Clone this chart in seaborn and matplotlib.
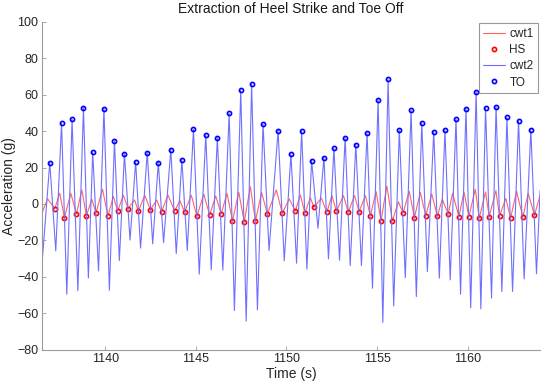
import numpy as np
import pandas as pd
import matplotlib
matplotlib.use("Agg")
import matplotlib.pyplot as plt
import seaborn as sns

sns.set_style("white")
plt.rcParams['font.family'] = ['Liberation Sans', 'DejaVu Sans']

# Toe off points (peaks of cwt2)
to_time = [1136.94, 1137.59, 1138.17, 1138.80, 1139.31, 1139.93, 1140.51, 1141.06, 1141.68, 1142.32,
           1142.93, 1143.62, 1144.23, 1144.87, 1145.55, 1146.19, 1146.84, 1147.48, 1148.08, 1148.71,
           1149.54, 1150.25, 1150.84, 1151.39, 1152.07, 1152.62, 1153.24, 1153.83, 1154.45, 1155.06,
           1155.61, 1156.23, 1156.88, 1157.47, 1158.13, 1158.75, 1159.36, 1159.91, 1160.47, 1160.99,
           1161.57, 1162.17, 1162.81, 1163.49]
to_acc = [22.7, 44.3, 46.5, 52.9, 28.4, 52.3, 34.6, 27.5, 23.1, 28.2,
          22.7, 29.8, 24.3, 41.0, 37.9, 36.4, 49.8, 62.4, 65.7, 43.8,
          40.2, 27.3, 40.2, 23.8, 25.4, 30.6, 36.4, 32.6, 39.1, 57.1,
          68.3, 40.5, 51.4, 44.5, 39.7, 40.5, 46.5, 52.3, 61.6, 52.9,
          53.2, 47.6, 45.7, 40.8]

# troughs of cwt2 between toe offs (plus the two ends)
cwt2_trough_time = [1136.54, 1137.27, 1137.88, 1138.49, 1139.07, 1139.63, 1140.23, 1140.78, 1141.37, 1141.95,
                    1142.62, 1143.22, 1143.92, 1144.53, 1145.19, 1145.85, 1146.49, 1147.13, 1147.78, 1148.40,
                    1149.04, 1149.88, 1150.56, 1151.13, 1151.74, 1152.32, 1152.93, 1153.52, 1154.14, 1154.75,
                    1155.32, 1155.92, 1156.56, 1157.17, 1157.78, 1158.44, 1159.04, 1159.61, 1160.17, 1160.73,
                    1161.32, 1161.89, 1162.48, 1163.12, 1163.80, 1164.00]
cwt2_trough_acc = [-29.2, -25.7, -49.5, -47.5, -40.6, -36.7, -47.3, -31.0, -19.8, -24.2,
                   -21.9, -21.2, -27.2, -25.5, -38.5, -36.1, -36.3, -58.4, -64.3, -58.1,
                   -25.5, -31.2, -32.5, -35.7, -13.3, -30.1, -30.8, -33.8, -33.8, -46.2,
                   -65.0, -55.9, -40.4, -50.8, -37.1, -40.7, -41.6, -49.5, -57.0, -57.5,
                   -51.6, -48.0, -48.0, -41.1, -38.3, 7.3]

# Heel strike points (minima of cwt1)
hs_time = [1137.22, 1137.75, 1138.41, 1138.96, 1139.49, 1140.15, 1140.69, 1141.26, 1141.83, 1142.49,
           1143.11, 1143.83, 1144.38, 1145.06, 1145.76, 1146.40, 1147.02, 1147.67, 1148.29, 1148.95,
           1149.77, 1150.49, 1151.02, 1151.52, 1152.23, 1152.76, 1153.41, 1154.01, 1154.63, 1155.22,
           1155.85, 1156.44, 1157.06, 1157.69, 1158.33, 1158.93, 1159.52, 1160.07, 1160.64, 1161.19,
           1161.76, 1162.37, 1163.05, 1163.69]
hs_acc = [-2.5, -7.5, -5.4, -6.4, -4.9, -6.4, -3.8, -2.5, -3.9, -3.2,
          -4.3, -3.9, -4.3, -6.7, -6.0, -5.4, -9.3, -9.8, -9.3, -5.4,
          -5.0, -3.9, -5.0, -1.8, -4.5, -3.9, -4.5, -4.2, -6.4, -9.1,
          -9.3, -4.9, -7.5, -6.4, -6.7, -5.4, -6.9, -6.9, -7.8, -6.9,
          -6.5, -7.8, -7.2, -6.1]

# peaks of cwt1 between heel strikes (plus the two ends)
cwt1_peak_time = [1136.54, 1136.82, 1137.49, 1138.10, 1138.71, 1139.26, 1139.85, 1140.45, 1141.00, 1141.62,
                  1142.18, 1142.84, 1143.46, 1144.12, 1144.75, 1145.44, 1146.10, 1146.72, 1147.37, 1148.01,
                  1148.63, 1149.44, 1150.16, 1150.77, 1151.32, 1151.93, 1152.51, 1153.15, 1153.76, 1154.36,
                  1154.95, 1155.54, 1156.18, 1156.78, 1157.39, 1158.02, 1158.60, 1159.17, 1159.80, 1160.42,
                  1160.99, 1161.56, 1162.11, 1162.70, 1163.34, 1163.98]
cwt1_peak_acc = [-4.2, 2.8, 5.9, 5.9, 7.7, 2.6, 8.1, 4.1, 4.8, 2.2,
                 4.8, 2.2, 5.0, 1.9, 4.8, 5.4, 4.4, 5.9, 6.5, 9.5,
                 6.3, 7.7, 2.8, 5.0, 3.5, 3.2, 4.6, 4.6, 4.6, 4.6,
                 6.8, 9.9, 1.2, 7.0, 6.3, 5.5, 2.6, 5.9, 6.6, 8.1,
                 6.6, 7.3, 3.0, 7.0, 5.9, 4.1]

cwt1 = pd.DataFrame({"t": hs_time + cwt1_peak_time, "a": hs_acc + cwt1_peak_acc}).sort_values("t")
cwt2 = pd.DataFrame({"t": to_time + cwt2_trough_time, "a": to_acc + cwt2_trough_acc}).sort_values("t")

fig, ax = plt.subplots(figsize=(5.5, 3.87), dpi=100)
fig.subplots_adjust(left=0.076, right=0.982, top=0.944, bottom=0.096)

red_line = "#ff6464"
blue_line = "#7070ff"
sns.lineplot(data=cwt1, x="t", y="a", ax=ax, color=red_line, lw=0.8, sort=False,
             estimator=None, label="cwt1")
ax.plot(hs_time, hs_acc, ls="none", marker="o", ms=3.0, mfc="none", mec="red", mew=1.2, label="HS")
sns.lineplot(data=cwt2, x="t", y="a", ax=ax, color=blue_line, lw=0.8, sort=False,
             estimator=None, label="cwt2")
ax.plot(to_time, to_acc, ls="none", marker="o", ms=3.0, mfc="none", mec="blue", mew=1.2, label="TO")

ax.set_xlim(1136.5, 1164.0)
ax.set_ylim(-80, 100)
ax.set_xticks([1140, 1145, 1150, 1155, 1160])
ax.set_yticks(np.arange(-80, 101, 20))

spine_col = "#9a9a9a"
for side in ["top", "right"]:
    ax.spines[side].set_visible(False)
for side in ["left", "bottom"]:
    ax.spines[side].set_color(spine_col)
    ax.spines[side].set_linewidth(0.8)
ax.tick_params(direction="in", length=3, width=0.6, color=spine_col, labelsize=9,
               labelcolor="#262626", left=True, bottom=True, pad=2.5)

ax.set_title("Extraction of Heel Strike and Toe Off", fontsize=10, color="#1a1a1a", pad=6)
ax.set_xlabel("Time (s)", fontsize=10, color="#262626", labelpad=1)
ax.set_ylabel("Acceleration (g)", fontsize=10, color="#262626", labelpad=1)

leg = ax.legend(loc="upper right", fontsize=8.5, frameon=True, fancybox=False,
                borderaxespad=0.15, handlelength=1.8, handletextpad=0.4, labelspacing=0.35,
                borderpad=0.4)
leg.get_frame().set_edgecolor("#808080")
leg.get_frame().set_linewidth(0.8)

fig.savefig("out.png", dpi=100)
